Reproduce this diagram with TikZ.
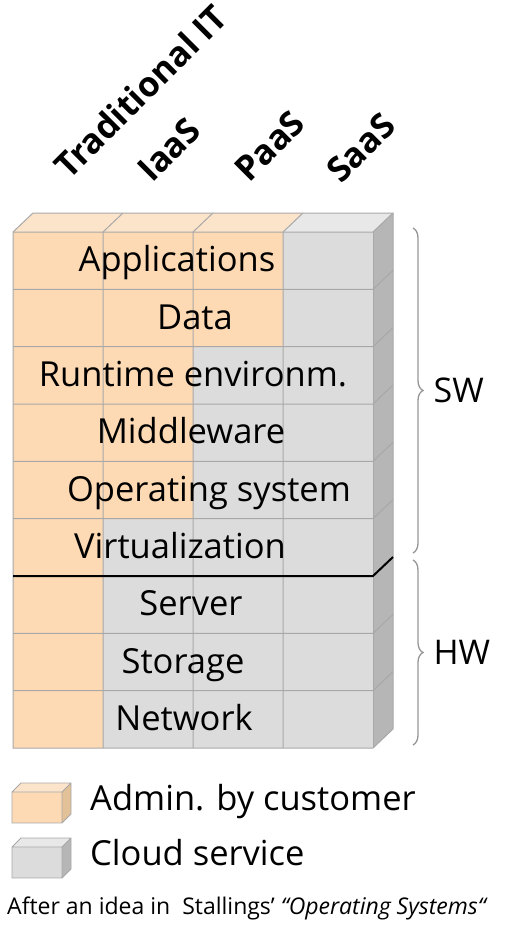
\documentclass[tikz,border=0pt]{standalone}
\usepackage{fontspec}
\setmainfont{Open Sans}
\usepackage{tikz}
\usetikzlibrary{positioning, decorations.pathreplacing}
\definecolor{custfront}{RGB}{253,218,180}
\definecolor{custtop}{RGB}{252,228,202}
\definecolor{custside}{RGB}{226,192,152}
\definecolor{cloudfront}{RGB}{220,220,220}
\definecolor{cloudtop}{RGB}{232,232,232}
\definecolor{cloudside}{RGB}{182,182,182}
\definecolor{gridgray}{RGB}{168,168,168}
\definecolor{bracegray}{RGB}{150,150,150}
\tikzset{
  gridline/.style={draw=gridgray, line width=1pt},
  layer/.style={anchor=base, inner sep=0pt, font=\fontsize{34.5}{40}\selectfont},
  colhead/.style={anchor=base west, rotate=45, inner sep=0pt,
    font=\fontsize{34.5}{38}\selectfont\bfseries},
  brace/.style={decorate, decoration={brace, amplitude=10pt},
    draw=bracegray, line width=1.3pt},
  bracelabel/.style={font=\fontsize{34}{40}\selectfont, inner sep=0pt},
  legtext/.style={anchor=base west, inner sep=0pt,
    font=\fontsize{34.5}{40}\selectfont},
  sepline/.style={draw=black, line width=2pt}
}

\begin{document}
\begin{tikzpicture}[x=1pt, y=-1pt]
  \useasboundingbox (0,0) rectangle (506,935);

  % Column headers
  \node[colhead] (trad) at (69,181) {Traditional IT};
  \node[colhead] (iaas) at (152,184) {IaaS};
  \node[colhead] (paas) at (249,184) {PaaS};
  \node[colhead] (saas) at (341,185) {SaaS};

  % Stack faces
  \fill[cloudfront] (13,232) rectangle (373,748);
  \fill[custfront] (13,232) -| (283,347) -| (193,519) -| (103,748) -| cycle;
  \fill[custtop] (13,232) -- (33,213) -- (303,213) -- (283,232) -- cycle;
  \fill[cloudtop] (283,232) -- (303,213) -- (393,213) -- (373,232) -- cycle;
  \fill[cloudside] (373,232) -- (393,213) -- (393,729) -- (373,748) -- cycle;

  % Grid
  \foreach \y in {1,...,8}
    \draw[gridline] (13,232+57.333*\y) -- ++(360,0) -- ++(20,-19);
  \foreach \x in {103,193,283}
    \draw[gridline] (\x,748) -- (\x,232) -- ++(20,-19);
  \draw[gridline] (13,232) -- (33,213) -- (393,213) -- (393,729) -- (373,748)
    -- (13,748) -- cycle;
  \draw[gridline] (13,232) -- (373,232) -- (393,213);
  \draw[gridline] (373,232) -- (373,748);

  % SW / HW border
  \draw[sepline] (13,576) -- (373,576) -- (393,557);

  % Layers
  \node[layer] (app) at (177,271.8) {Applications};
  \node[layer] (data) at (195,329.2) {Data};
  \node[layer] (rte) at (193,386.5) {Runtime environm.};
  \node[layer] (mw) at (191,443.8) {Middleware};
  \node[layer] (os) at (209,501.2) {Operating system};
  \node[layer] (virt) at (180,558.5) {Virtualization};
  \node[layer] (srv) at (191,615.8) {Server};
  \node[layer] (stor) at (183,673.2) {Storage};
  \node[layer] (net) at (184,730.5) {Network};

  % Braces
  \coordinate (swtop) at (413,228);
  \coordinate (swbot) at (413,553);
  \coordinate (hwtop) at (413,560);
  \coordinate (hwbot) at (413,745);
  \draw[brace] (swtop) -- node[bracelabel, right=20pt] (sw) {SW} (swbot);
  \draw[brace] (hwtop) -- node[bracelabel, right=20pt] (hw) {HW} (hwbot);

  % Legend
  \fill[custfront] (12,792) rectangle (62,823);
  \fill[custtop] (12,792) -- (21,783) -- (71,783) -- (62,792) -- cycle;
  \fill[custside] (62,792) -- (71,783) -- (71,814) -- (62,823) -- cycle;
  \draw[gridline, line width=0.8pt] (12,823) -- (12,792) -- (21,783) -- (71,783)
    -- (71,814) -- (62,823) -- cycle (12,792) -- (62,792) -- (71,783) (62,792) -- (62,823);
  \fill[cloudfront] (12,847) rectangle (62,878);
  \fill[cloudtop] (12,847) -- (21,838) -- (71,838) -- (62,847) -- cycle;
  \fill[cloudside] (62,847) -- (71,838) -- (71,869) -- (62,878) -- cycle;
  \draw[gridline, line width=0.8pt] (12,878) -- (12,847) -- (21,838) -- (71,838)
    -- (71,869) -- (62,878) -- cycle (12,847) -- (62,847) -- (71,838) (62,847) -- (62,878);
  \node[legtext] (admin) at (90,810) {Admin. by customer};
  \node[legtext] (cloud) at (90,865) {Cloud service};

  % Source
  \node[legtext, font=\fontsize{23}{26}\selectfont] (src) at (7,914)
    {After an idea in\ \ Stallings’ \textit{“Operating Systems“}};
\end{tikzpicture}
\end{document}
